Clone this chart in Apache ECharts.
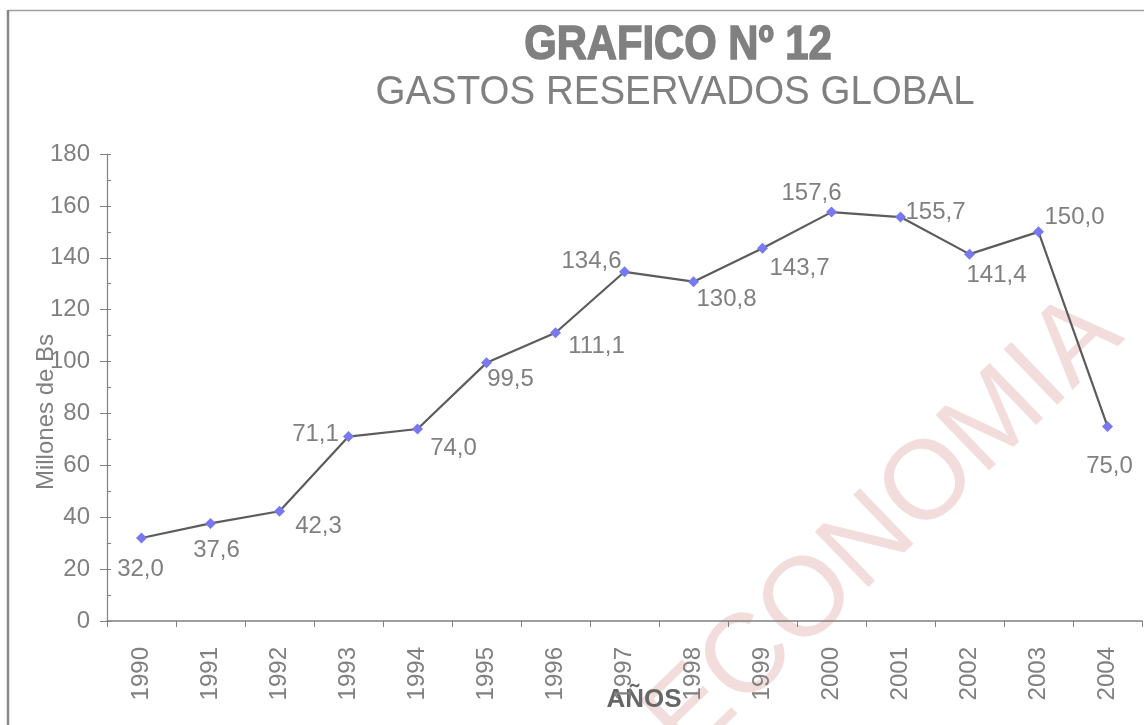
<!DOCTYPE html>
<html><head><meta charset="utf-8">
<script src="https://cdn.jsdelivr.net/npm/echarts@6/dist/echarts.min.js"></script>
<style>html,body{margin:0;padding:0;background:#fff}#c{width:1144px;height:725px}</style>
</head><body><div id="c"></div>
<script>
// ---- data ----
const years = ['1990','1991','1992','1993','1994','1995','1996','1997','1998','1999','2000','2001','2002','2003','2004'];
const gastos = [32.0, 37.6, 42.3, 71.1, 74.0, 99.5, 111.1, 134.6, 130.8, 143.7, 157.6, 155.7, 141.4, 150.0, 75.0];
const yMin = 0, yMax = 180, yStep = 20;
const titleText = 'GRAFICO Nº 12';
const subtitleText = 'GASTOS RESERVADOS GLOBAL';
const yName = 'Millones de Bs';
const xName = 'AÑOS';
const watermark = 'ECONOMIA';

// ---- label placement (style only) ----
const labelOffsets = [[-1,31],[6,27],[39,15],[-33,-2],[36,19],[24,17],[41,14],[-33,-10],[33,18],[37,20],[-20,-19],[35,-5],[27,21],[36,-14],[2,40]];

const FONT = '"Liberation Sans", Arial, sans-serif';
const GRAY = '#808080';

const seriesData = gastos.map((v, i) => ({
  value: v,
  label: { position: 'inside', offset: labelOffsets[i] }
}));

const chart = echarts.init(document.getElementById('c'), null, { renderer: 'canvas' });
chart.setOption({
  backgroundColor: '#ffffff',
  animation: false,
  grid: { left: 107, right: 2, top: 154, bottom: 104, containLabel: false },
  xAxis: {
    type: 'category',
    data: years,
    boundaryGap: true,
    axisLine: { lineStyle: { color: GRAY, width: 1.5 } },
    axisTick: { show: true, alignWithLabel: false, length: 6, lineStyle: { color: GRAY } },
    axisLabel: { rotate: 90, margin: 26, fontSize: 24, color: GRAY, fontFamily: FONT, interval: 0 },
    splitLine: { show: false }
  },
  yAxis: [{
    type: 'value',
    min: yMin, max: yMax, interval: yStep,
    axisLine: { show: true, lineStyle: { color: GRAY, width: 1.2 } },
    axisTick: { show: true, length: 7, lineStyle: { color: GRAY } },
    axisLabel: { fontSize: 24, color: GRAY, fontFamily: FONT, margin: 17 },
    splitLine: { show: false }
  }, {
    type: 'value',
    position: 'left',
    min: yMin, max: yMax, interval: yStep / 2,
    axisLine: { show: false },
    axisTick: { show: true, inside: true, length: 4, lineStyle: { color: GRAY } },
    axisLabel: { show: false },
    splitLine: { show: false }
  }],
  series: [{
    type: 'line',
    data: seriesData,
    z: 5,
    symbol: 'diamond',
    symbolSize: 11,
    lineStyle: { color: '#5c5c5c', width: 2.2 },
    itemStyle: { color: '#7878f0' },
    label: {
      show: true,
      fontSize: 24,
      color: GRAY,
      fontFamily: FONT,
      formatter: p => p.value.toFixed(1).replace('.', ',')
    }
  }],
  graphic: [
    { type: 'text', z: -10, x: 885, y: 528, rotation: 44 * Math.PI / 180,
      style: { text: watermark, fontSize: 112, fontFamily: FONT, fill: '#f3dcdc', align: 'center', verticalAlign: 'middle' } },
    { type: 'line', shape: { x1: 8, y1: 10.5, x2: 1144, y2: 10.5 }, style: { stroke: '#a0a0a0', lineWidth: 1.5 } },
    { type: 'line', shape: { x1: 8, y1: 10, x2: 8, y2: 725 }, style: { stroke: '#888888', lineWidth: 2.5 } },
    { type: 'text', x: 678, y: 46, scaleX: 0.87,
      style: { text: titleText, fontSize: 48, fontWeight: 'bold', fontFamily: FONT, fill: GRAY, stroke: GRAY, lineWidth: 1.5, align: 'center', verticalAlign: 'middle' } },
    { type: 'text', x: 675, y: 93, scaleY: 1.06,
      style: { text: subtitleText, fontSize: 38.5, fontFamily: FONT, fill: GRAY, align: 'center', verticalAlign: 'middle' } },
    { type: 'text', x: 46, y: 412, rotation: Math.PI / 2,
      style: { text: yName, fontSize: 24, fontFamily: FONT, fill: GRAY, align: 'center', verticalAlign: 'middle' } },
    { type: 'text', x: 644, y: 700,
      style: { text: xName, fontSize: 26, fontWeight: 'bold', fontFamily: FONT, fill: '#666666', align: 'center', verticalAlign: 'middle' } }
  ]
});
</script>
</body></html>
